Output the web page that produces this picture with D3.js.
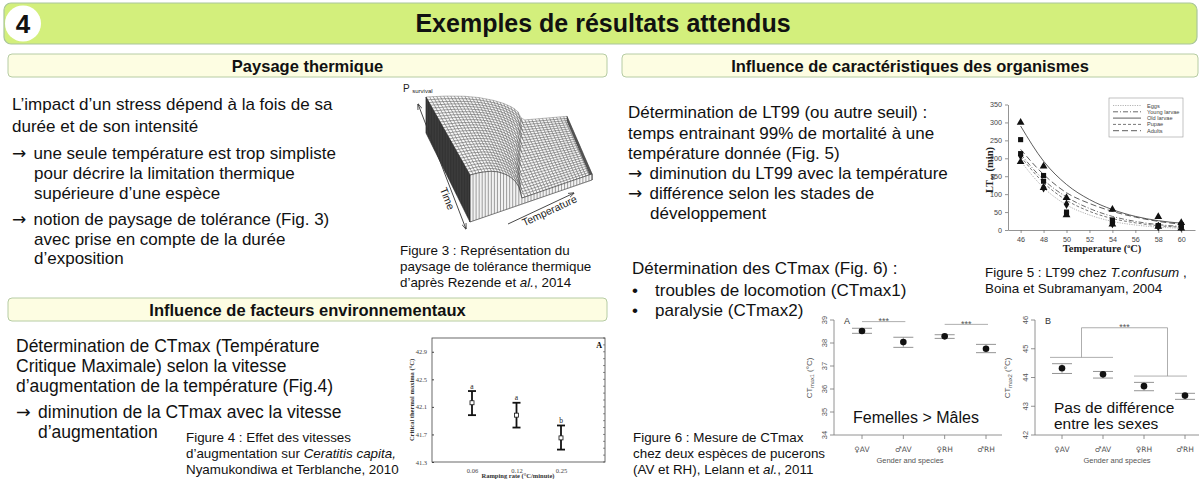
<!DOCTYPE html>
<html>
<head>
<meta charset="utf-8">
<script src="https://cdn.jsdelivr.net/npm/d3@7/dist/d3.min.js"></script>
<style>
html,body{margin:0;padding:0;background:#fff;}
svg{display:block;font-family:"Liberation Sans",Arial,Helvetica,sans-serif;}
</style>
</head>
<body>
<svg id="chart" width="1200" height="479"></svg>
<script>
// ================= DATA =================
// Figure 3 : tolerance landscape (normalised shape)
const fig3ProfileU = [0, 0.2, 0.4, 0.55, 0.7, 0.8, 0.88, 0.94, 0.98, 1];
const fig3ProfileP = [1, 0.98, 0.93, 0.86, 0.75, 0.65, 0.54, 0.43, 0.30, 0.13];
const fig3TimeS   = [0, 0.25, 0.5, 0.75, 1];
const fig3CritT   = [0.68, 0.62, 0.55, 0.48, 0.42];
const fig3PMin    = 0.13;

// Figure 5 : LT99 of T. confusum
const fig5Stages   = ["Eggs", "Young larvae", "Old larvae", "Pupae", "Adults"];
const fig5FitTemps = [46, 48, 50, 52, 54, 56, 58, 60];
const fig5FitEggs   = [192, 118, 70, 42, 24, 14, 8, 5];
const fig5FitYoung  = [212, 140, 92, 60, 38, 24, 15, 10];
const fig5FitOld    = [290, 192, 127, 85, 57, 38, 26, 19];
const fig5FitPupae  = [205, 132, 83, 52, 32, 20, 12, 8];
const fig5FitAdults = [225, 155, 104, 74, 52, 36, 24, 16];
const fig5ObsTemps  = [46, 48, 50, 54, 58, 60];
const fig5ObsEggs   = [190, 118, 42, 16, 10, 5];
const fig5ObsYoung  = [213, 136, 45, 25, 12, 12];
const fig5ObsOld    = [300, 178, 90, 57, 37, 20];
const fig5ObsPupae  = [208, 118, 72, 18, 10, 8];
const fig5ObsAdults = [252, 152, 50, 28, 12, 15];
const fig5XTicks = [46, 48, 50, 52, 54, 56, 58, 60];
const fig5YTicks = [0, 50, 100, 150, 200, 250, 300, 350];

// Figure 4 : CTmax vs ramping rate
const fig4Rates   = ["0.06", "0.12", "0.25"];
const fig4Mean    = [42.16, 41.98, 41.65];
const fig4Upper   = [42.33, 42.16, 41.83];
const fig4Lower   = [41.98, 41.80, 41.48];
const fig4Letters = ["a", "a", "b"];
const fig4YTicks  = [41.3, 41.7, 42.1, 42.5, 42.9];

// Figure 6 : CTmax1 / CTmax2 of two aphid species
const fig6Groups = ["\u2640AV", "\u2642AV", "\u2640RH", "\u2642RH"];
const fig6AMean  = [38.52, 38.04, 38.29, 37.75];
const fig6AUpper = [38.64, 38.25, 38.36, 37.94];
const fig6ALower = [38.42, 37.81, 38.20, 37.58];
const fig6BMean  = [44.32, 44.11, 43.70, 43.37];
const fig6BUpper = [44.48, 44.21, 43.83, 43.45];
const fig6BLower = [44.14, 43.98, 43.54, 43.24];
const fig6AYTicks = [34, 35, 36, 37, 38, 39];
const fig6BYTicks = [42, 43, 44, 45, 46];
const fig6ASigLevels = [38.93, 38.81];
const fig6BSigGroupLevels = [44.70, 44.05];
const fig6BSigTop = 45.73;

// ================= DRAWING =================
const svg = d3.select("#chart");
const SANS = '"Liberation Sans", Arial, Helvetica, sans-serif';
const SERIF = '"Liberation Serif", "Times New Roman", serif';
const ARROW = {t: "\u2192", f: '"DejaVu Sans", sans-serif'};

function rich(x, y, segs, size, opts = {}) {
  const t = svg.append("text").attr("x", x).attr("y", y)
    .attr("font-size", size).attr("fill", opts.fill || "#111");
  if (opts.anchor) t.attr("text-anchor", opts.anchor);
  if (opts.weight) t.attr("font-weight", opts.weight);
  if (opts.family) t.attr("font-family", opts.family);
  segs.forEach(s => {
    const ts = t.append("tspan").text(typeof s === "string" ? s : s.t);
    if (s.i) ts.attr("font-style", "italic");
    if (s.f) ts.attr("font-family", s.f);
    if (s.dx) ts.attr("dx", s.dx);
  });
  return t;
}

// ---- header ----
svg.append("rect").attr("x", 4).attr("y", 3).attr("width", 1193).attr("height", 41)
  .attr("rx", 7).attr("fill", "#d3ef7c").attr("stroke", "#a9c59b").attr("stroke-width", 1.2);
svg.append("circle").attr("cx", 23).attr("cy", 23.5).attr("r", 18).attr("fill", "#fff");
rich(23, 33, ["4"], 26, {anchor: "middle", weight: "bold"});
rich(603, 32, ["Exemples de résultats attendus"], 25, {anchor: "middle", weight: "bold"});

// ---- section boxes ----
function sectionBox(x, y, w, h, label) {
  svg.append("rect").attr("x", x).attr("y", y).attr("width", w).attr("height", h)
    .attr("rx", 4).attr("fill", "#fdfde2").attr("stroke", "#b6cca4").attr("stroke-width", 1);
  rich(x + w / 2, y + h / 2 + 6, [label], 16.5, {anchor: "middle", weight: "bold"});
}
sectionBox(8, 54, 599, 23, "Paysage thermique");
sectionBox(622, 54, 576, 23, "Influence de caractéristiques des organismes");
sectionBox(8, 298, 599, 23, "Influence de facteurs environnementaux");

// ---- body texts ----
const AR = t => [ARROW, {t: " " + t, dx: 2.5}];
const leftTop = [
  [12, 110, ["L\u2019impact d\u2019un stress dépend à la fois de sa"]],
  [12, 132, ["durée et de son intensité"]],
  [12, 159, AR("une seule température est trop simpliste")],
  [34, 179, ["pour décrire la limitation thermique"]],
  [34, 199, ["supérieure d\u2019une espèce"]],
  [12, 225, AR("notion de paysage de tolérance (Fig. 3)")],
  [34, 245, ["avec prise en compte de la durée"]],
  [34, 264, ["d\u2019exposition"]]
];
leftTop.forEach(d => rich(d[0], d[1], d[2], 17));

const rightTop = [
  [628, 118, ["Détermination de LT99 (ou autre seuil) :"]],
  [628, 139, ["temps entrainant 99% de mortalité à une"]],
  [628, 159, ["température donnée (Fig. 5)"]],
  [628, 179, AR("diminution du LT99 avec la température")],
  [628, 199, AR("différence selon les stades de")],
  [650, 219, ["développement"]],
  [632, 274, ["Détermination des CTmax (Fig. 6) :"]],
  [655, 296, ["troubles de locomotion (CTmax1)"]],
  [655, 316, ["paralysie (CTmax2)"]]
];
rightTop.forEach(d => rich(d[0], d[1], d[2], 17));
rich(632, 296, ["\u2022"], 17);
rich(632, 316, ["\u2022"], 17);

const leftBottom = [
  [16, 352, ["Détermination de CTmax (Température"]],
  [16, 372, ["Critique Maximale) selon la vitesse"]],
  [16, 392, ["d\u2019augmentation de la température (Fig.4)"]],
  [16, 418, AR("diminution de la CTmax avec la vitesse")],
  [38, 438, ["d\u2019augmentation"]]
];
leftBottom.forEach(d => rich(d[0], d[1], d[2], 17.5));

// ---- captions ----
const CAP = 13.4;
rich(400, 255, ["Figure 3 : Représentation du"], CAP);
rich(400, 271, ["paysage de tolérance thermique"], CAP);
rich(400, 287, ["d\u2019après Rezende et ", {t: "al.", i: true}, ", 2014"], CAP);

rich(186, 442, ["Figure 4 : Effet des vitesses"], CAP);
rich(186, 458, ["d\u2019augmentation sur ", {t: "Ceratitis capita,", i: true}], CAP);
rich(186, 474, ["Nyamukondiwa et Terblanche, 2010"], CAP);

rich(985, 277, ["Figure 5 : LT99 chez ", {t: "T.confusum", i: true}, " ,"], CAP);
rich(985, 293, ["Boina et Subramanyam, 2004"], CAP);

rich(633, 442, ["Figure 6 : Mesure de CTmax"], CAP);
rich(633, 458, ["chez deux espèces de pucerons"], CAP);
rich(633, 474, ["(AV et RH), Lelann et ", {t: "al.", i: true}, ", 2011"], CAP);

// ================= FIGURE 3 (3-D landscape) =================
(function () {
  const g = svg.append("g");
  const BL = [426, 133], BR = [567, 121], FL = [470, 222], FR = [592, 180];
  const hBack = 36, hFront = 47;
  const profile = d3.scaleLinear().domain(fig3ProfileU).range(fig3ProfileP).clamp(true);
  const crit = d3.scaleLinear().domain(fig3TimeS).range(fig3CritT);
  const P = (t, s) => { const tc = crit(s); return t >= tc ? fig3PMin : profile(t / tc); };
  const proj = (t, s, p) => {
    const x = (1 - t) * (1 - s) * BL[0] + t * (1 - s) * BR[0] + (1 - t) * s * FL[0] + t * s * FR[0];
    const y = (1 - t) * (1 - s) * BL[1] + t * (1 - s) * BR[1] + (1 - t) * s * FL[1] + t * s * FR[1];
    const h = hBack + (hFront - hBack) * s;
    return [x, y - p * h];
  };
  const nt = 40, ns = 28;
  const tv = d3.range(nt + 1).map(i => i / nt);
  const sv = d3.range(ns + 1).map(j => j / ns);
  const cells = [];
  for (let j = 0; j < ns; j++) {
    for (let i = nt - 1; i >= 0; i--) {
      const t0 = tv[i], t1 = tv[i + 1], s0 = sv[j], s1 = sv[j + 1];
      cells.push([proj(t0, s0, P(t0, s0)), proj(t1, s0, P(t1, s0)),
                  proj(t1, s1, P(t1, s1)), proj(t0, s1, P(t0, s1))]);
    }
  }
  const line = d3.line();
  g.selectAll("path.cell").data(cells).join("path").attr("class", "cell")
    .attr("d", d => line(d) + "Z").attr("fill", "#f8f8f8")
    .attr("stroke", "#3a3a3a").attr("stroke-width", 0.35).attr("stroke-linejoin", "round");

  // right side (t = 1)
  const right = sv.map(s => proj(1, s, P(1, s))).concat(sv.slice().reverse().map(s => proj(1, s, 0)));
  g.append("path").attr("d", line(right) + "Z").attr("fill", "#555").attr("stroke", "#333").attr("stroke-width", 0.5);
  // left side (t = 0)
  const left = sv.map(s => proj(0, s, P(0, s))).concat(sv.slice().reverse().map(s => proj(0, s, 0)));
  g.append("path").attr("d", line(left) + "Z").attr("fill", "#2e2e2e").attr("stroke", "#222").attr("stroke-width", 0.6);
  g.selectAll("line.lside").data(sv).join("line").attr("class", "lside")
    .attr("x1", s => proj(0, s, 0)[0]).attr("y1", s => proj(0, s, 0)[1])
    .attr("x2", s => proj(0, s, 1)[0]).attr("y2", s => proj(0, s, 1)[1])
    .attr("stroke", "#666").attr("stroke-width", 0.3);
  // front face (s = 1)
  const front = tv.map(t => proj(t, 1, P(t, 1))).concat(tv.slice().reverse().map(t => proj(t, 1, 0)));
  g.append("path").attr("d", line(front) + "Z").attr("fill", "#f2f2f2").attr("stroke", "#222").attr("stroke-width", 0.6);
  g.selectAll("line.ff").data(tv).join("line").attr("class", "ff")
    .attr("x1", t => proj(t, 1, 0)[0]).attr("y1", t => proj(t, 1, 0)[1])
    .attr("x2", t => proj(t, 1, P(t, 1))[0]).attr("y2", t => proj(t, 1, P(t, 1))[1])
    .attr("stroke", "#333").attr("stroke-width", 0.45);

  // arrows
  const defs = svg.append("defs");
  defs.append("marker").attr("id", "ah").attr("viewBox", "0 0 10 10").attr("refX", 9).attr("refY", 5)
    .attr("markerWidth", 7).attr("markerHeight", 7).attr("orient", "auto-start-reverse")
    .append("path").attr("d", "M0,1.5 L10,5 L0,8.5").attr("fill", "none").attr("stroke", "#333").attr("stroke-width", 1.2);
  g.append("line").attr("x1", 418).attr("y1", 104).attr("x2", 466).attr("y2", 229)
    .attr("stroke", "#333").attr("stroke-width", 0.9)
    .attr("marker-start", "url(#ah)").attr("marker-end", "url(#ah)");
  g.append("line").attr("x1", 508).attr("y1", 224).attr("x2", 574).attr("y2", 193)
    .attr("stroke", "#333").attr("stroke-width", 0.9).attr("marker-end", "url(#ah)");
  g.append("text").attr("transform", "translate(444,200) rotate(68)").attr("text-anchor", "middle")
    .attr("font-size", 10.5).attr("fill", "#222").text("Time");
  g.append("text").attr("transform", "translate(551,214) rotate(-25)").attr("text-anchor", "middle")
    .attr("font-size", 10.5).attr("fill", "#222").text("Temperature");
  const pl = g.append("text").attr("x", 403).attr("y", 92).attr("font-size", 10).attr("fill", "#222");
  pl.append("tspan").text("P ");
  pl.append("tspan").attr("font-size", 6).attr("dy", 1).text("survival");
})();

// ================= FIGURE 5 =================
(function () {
  const g = svg.append("g");
  const x = d3.scaleLinear().domain([44.9, 61.2]).range([1008, 1195]);
  const y = d3.scaleLinear().domain([0, 350]).range([230, 104.5]);
  const ax = g.append("g").attr("transform", "translate(0,230)")
    .call(d3.axisBottom(x).tickValues(fig5XTicks).tickSize(3).tickSizeOuter(0));
  const ay = g.append("g").attr("transform", "translate(1008,0)")
    .call(d3.axisLeft(y).tickValues(fig5YTicks).tickSize(3).tickSizeOuter(0));
  [ax, ay].forEach(a => {
    a.selectAll("path,line").attr("stroke", "#666").attr("stroke-width", 0.7);
    a.selectAll("text").attr("font-size", 7.2).attr("fill", "#444").attr("font-family", SANS);
  });
  ax.selectAll("text").attr("dy", "0.9em");
  const styles = {
    "Eggs":         {c: "#aaa", d: "1.2,1.2", w: 0.9, sym: d3.symbolTriangle},
    "Young larvae": {c: "#444", d: "5,2,1,2", w: 0.8, sym: d3.symbolSquare},
    "Old larvae":   {c: "#333", d: null,      w: 0.8, sym: d3.symbolTriangle},
    "Pupae":        {c: "#555", d: "3,2",     w: 0.8, sym: d3.symbolDiamond},
    "Adults":       {c: "#333", d: "6,3",     w: 0.8, sym: d3.symbolSquare}
  };
  const fits = {"Eggs": fig5FitEggs, "Young larvae": fig5FitYoung, "Old larvae": fig5FitOld,
                "Pupae": fig5FitPupae, "Adults": fig5FitAdults};
  const obs = {"Eggs": fig5ObsEggs, "Young larvae": fig5ObsYoung, "Old larvae": fig5ObsOld,
               "Pupae": fig5ObsPupae, "Adults": fig5ObsAdults};
  const ln = d3.line().x((d, i) => x(fig5FitTemps[i])).y(d => y(d)).curve(d3.curveMonotoneX);
  fig5Stages.forEach(st => {
    const s = styles[st];
    g.append("path").attr("d", ln(fits[st])).attr("fill", "none").attr("stroke", s.c)
      .attr("stroke-width", s.w).attr("stroke-dasharray", s.d);
  });
  fig5Stages.forEach(st => {
    const s = styles[st];
    g.selectAll(null).data(obs[st]).join("path")
      .attr("transform", (d, i) => `translate(${x(fig5ObsTemps[i])},${y(d)})`)
      .attr("d", d3.symbol().type(s.sym).size(26)).attr("fill", "#111");
  });
  // legend
  g.append("rect").attr("x", 1109).attr("y", 98).attr("width", 74).attr("height", 39)
    .attr("fill", "#fff").attr("stroke", "#999").attr("stroke-width", 0.6);
  fig5Stages.forEach((st, i) => {
    const s = styles[st], yy = 105.5 + i * 6.3;
    g.append("line").attr("x1", 1113).attr("x2", 1141).attr("y1", yy).attr("y2", yy)
      .attr("stroke", s.c).attr("stroke-width", s.w).attr("stroke-dasharray", s.d);
    g.append("text").attr("x", 1147).attr("y", yy + 2).attr("font-size", 5.6).attr("fill", "#444").text(st);
  });
  // titles
  const yt = g.append("text").attr("transform", "translate(993,170) rotate(-90)").attr("text-anchor", "middle")
    .attr("font-family", SERIF).attr("font-weight", "bold").attr("font-size", 10.5).attr("fill", "#222");
  yt.append("tspan").text("LT");
  yt.append("tspan").attr("font-size", 6).attr("dy", 2).text("99");
  yt.append("tspan").attr("dy", -2).text(" (min)");
  const xt = g.append("text").attr("x", 1102).attr("y", 252).attr("text-anchor", "middle")
    .attr("font-family", SERIF).attr("font-weight", "bold").attr("font-size", 10.5).attr("fill", "#222");
  xt.append("tspan").text("Temperature (");
  xt.append("tspan").attr("font-size", 6).attr("dy", -4).text("o");
  xt.append("tspan").attr("dy", 4).text("C)");
})();

// ================= FIGURE 4 =================
(function () {
  const g = svg.append("g");
  const x = d3.scalePoint().domain(fig4Rates).range([472, 561]);
  const y = d3.scaleLinear().domain([41.3, 43.1]).range([462, 338]);
  g.append("rect").attr("x", 432).attr("y", 338).attr("width", 173).attr("height", 124)
    .attr("fill", "none").attr("stroke", "#444").attr("stroke-width", 0.8);
  const ay = g.append("g").attr("transform", "translate(432,0)")
    .call(d3.axisLeft(y).tickValues(fig4YTicks).tickFormat(d3.format(".1f")).tickSize(-2).tickSizeOuter(0).tickPadding(5));
  ay.select(".domain").remove();
  ay.selectAll("line").attr("stroke", "#444");
  ay.selectAll("text").attr("font-family", SERIF).attr("font-size", 6.5).attr("fill", "#444");
  g.selectAll("line.rt").data(d3.range(41.3, 43.1, 0.1)).join("line").attr("class", "rt")
    .attr("x1", 603).attr("x2", 605).attr("y1", d => y(d)).attr("y2", d => y(d)).attr("stroke", "#444").attr("stroke-width", 0.6);
  const axx = g.append("g").attr("transform", "translate(0,462)")
    .call(d3.axisBottom(x).tickSize(0).tickPadding(6));
  axx.select(".domain").remove();
  axx.selectAll("text").attr("font-family", SERIF).attr("font-size", 6.5).attr("fill", "#444");
  // error bars
  fig4Rates.forEach((r, i) => {
    const cx = x(r);
    g.append("line").attr("x1", cx).attr("x2", cx).attr("y1", y(fig4Lower[i])).attr("y2", y(fig4Upper[i]))
      .attr("stroke", "#111").attr("stroke-width", 1.8);
    [fig4Lower[i], fig4Upper[i]].forEach(v => g.append("line").attr("x1", cx - 4).attr("x2", cx + 4)
      .attr("y1", y(v)).attr("y2", y(v)).attr("stroke", "#111").attr("stroke-width", 1.8));
    g.append("rect").attr("x", cx - 2).attr("y", y(fig4Mean[i]) - 2).attr("width", 4).attr("height", 4)
      .attr("fill", "#fff").attr("stroke", "#111").attr("stroke-width", 0.8);
    g.append("text").attr("x", cx).attr("y", y(fig4Upper[i]) - 2.5).attr("text-anchor", "middle")
      .attr("font-family", SERIF).attr("font-size", 7.5).attr("fill", "#222").text(fig4Letters[i]);
  });
  g.append("text").attr("x", 602).attr("y", 348).attr("text-anchor", "end").attr("font-family", SERIF)
    .attr("font-weight", "bold").attr("font-size", 8).text("A");
  g.append("text").attr("transform", "translate(414,400) rotate(-90)").attr("text-anchor", "middle")
    .attr("font-family", SERIF).attr("font-weight", "bold").attr("font-size", 6.5).attr("fill", "#333")
    .text("Critical thermal maxima (\u00B0C)");
  g.append("text").attr("x", 518).attr("y", 478).attr("text-anchor", "middle")
    .attr("font-family", SERIF).attr("font-weight", "bold").attr("font-size", 6.5).attr("fill", "#333")
    .text("Ramping rate (\u00B0C/minute)");
})();

// ================= FIGURE 6 =================
function fig6(opts) {
  const g = svg.append("g");
  const x = d3.scalePoint().domain(fig6Groups).range(opts.xr);
  const y = d3.scaleLinear().domain(opts.yd).range([435, 320]);
  const AX = "#777", TX = "#555";
  g.append("line").attr("x1", opts.x0).attr("x2", opts.x0).attr("y1", 320).attr("y2", 435).attr("stroke", AX).attr("stroke-width", 0.8);
  g.append("line").attr("x1", opts.x0).attr("x2", opts.x1).attr("y1", 435).attr("y2", 435).attr("stroke", AX).attr("stroke-width", 0.8);
  opts.ticks.forEach(v => {
    g.append("line").attr("x1", opts.x0 - 4).attr("x2", opts.x0).attr("y1", y(v)).attr("y2", y(v)).attr("stroke", AX).attr("stroke-width", 0.8);
    g.append("text").attr("transform", `translate(${opts.x0 - 7},${y(v)}) rotate(-90)`).attr("text-anchor", "middle")
      .attr("font-size", 7.5).attr("fill", TX).text(v);
  });
  fig6Groups.forEach((k, i) => {
    g.append("line").attr("x1", x(k)).attr("x2", x(k)).attr("y1", 435).attr("y2", 439).attr("stroke", AX).attr("stroke-width", 0.8);
    g.append("text").attr("x", x(k)).attr("y", 452).attr("text-anchor", "middle").attr("font-size", 7.5).attr("fill", TX)
      .attr("font-family", '"DejaVu Sans", "Liberation Sans", sans-serif').text(k);
    const cx = x(k);
    g.append("line").attr("x1", cx).attr("x2", cx).attr("y1", y(opts.lo[i])).attr("y2", y(opts.up[i])).attr("stroke", "#999").attr("stroke-width", 0.8);
    [opts.lo[i], opts.up[i]].forEach(v => g.append("line").attr("x1", cx - 10).attr("x2", cx + 10)
      .attr("y1", y(v)).attr("y2", y(v)).attr("stroke", "#888").attr("stroke-width", 0.9));
    g.append("circle").attr("cx", cx).attr("cy", y(opts.mean[i])).attr("r", 3.3).attr("fill", "#111");
  });
  g.append("text").attr("x", (opts.x0 + opts.x1) / 2 + opts.gx).attr("y", 463).attr("text-anchor", "middle")
    .attr("font-size", 7.5).attr("fill", TX).text("Gender and species");
  const yt = g.append("text").attr("transform", `translate(${opts.yl},378) rotate(-90)`).attr("text-anchor", "middle")
    .attr("font-size", 8).attr("fill", TX);
  yt.append("tspan").text("CT");
  yt.append("tspan").attr("font-size", 5.5).attr("dy", 2).text(opts.sub);
  yt.append("tspan").attr("dy", -2).text(" (\u00B0C)");
  g.append("text").attr("x", opts.x0 + 10).attr("y", 324).attr("font-size", 9).attr("fill", "#333").text(opts.label);
  return {g, x, y};
}

(function () {
  const r = fig6({xr: [862, 986], yd: [34, 39], x0: 834, x1: 1002, ticks: fig6AYTicks, gx: -8,
    mean: fig6AMean, up: fig6AUpper, lo: fig6ALower, sub: "max1", yl: 812, label: "A"});
  const {g, x, y} = r;
  [[0, 1], [2, 3]].forEach((p, k) => {
    const yy = y(fig6ASigLevels[k]);
    g.append("line").attr("x1", x(fig6Groups[p[0]])).attr("x2", x(fig6Groups[p[1]]) + 2)
      .attr("y1", yy).attr("y2", yy).attr("stroke", "#999").attr("stroke-width", 0.8);
    g.append("text").attr("x", (x(fig6Groups[p[0]]) + x(fig6Groups[p[1]])) / 2 + 1).attr("y", yy + 2.5)
      .attr("text-anchor", "middle").attr("font-size", 9).attr("fill", "#555").text("***");
  });
  svg.append("text").attr("x", 916).attr("y", 423).attr("text-anchor", "middle").attr("font-size", 16)
    .attr("fill", "#111").text("Femelles > Mâles");
})();

(function () {
  const r = fig6({xr: [1062, 1185], yd: [42, 46], x0: 1035, x1: 1199, ticks: fig6BYTicks, gx: 0,
    mean: fig6BMean, up: fig6BUpper, lo: fig6BLower, sub: "max2", yl: 1010, label: "B"});
  const {g, x, y} = r;
  const c = "#999";
  const yAV = y(fig6BSigGroupLevels[0]), yRH = y(fig6BSigGroupLevels[1]), yTop = y(fig6BSigTop);
  const xAV = (x(fig6Groups[0]) + x(fig6Groups[1])) / 2 - 1, xRH = (x(fig6Groups[2]) + x(fig6Groups[3])) / 2 + 3;
  const L = (x1, y1, x2, y2) => g.append("line").attr("x1", x1).attr("y1", y1).attr("x2", x2).attr("y2", y2)
    .attr("stroke", c).attr("stroke-width", 0.8);
  L(x(fig6Groups[0]) - 12, yAV, x(fig6Groups[1]) + 10, yAV);
  L(x(fig6Groups[2]) - 10, yRH, x(fig6Groups[3]) + 2, yRH);
  L(xAV, yAV, xAV, yTop);
  L(xRH, yRH, xRH, yTop);
  L(xAV, yTop, xRH, yTop);
  g.append("text").attr("x", (xAV + xRH) / 2).attr("y", yTop + 2.5).attr("text-anchor", "middle")
    .attr("font-size", 9).attr("fill", "#555").text("***");
  svg.append("text").attr("x", 1054).attr("y", 413).attr("font-size", 15.5).attr("fill", "#111").text("Pas de différence");
  svg.append("text").attr("x", 1054).attr("y", 429).attr("font-size", 15.5).attr("fill", "#111").text("entre les sexes");
})();
</script>
</body>
</html>
